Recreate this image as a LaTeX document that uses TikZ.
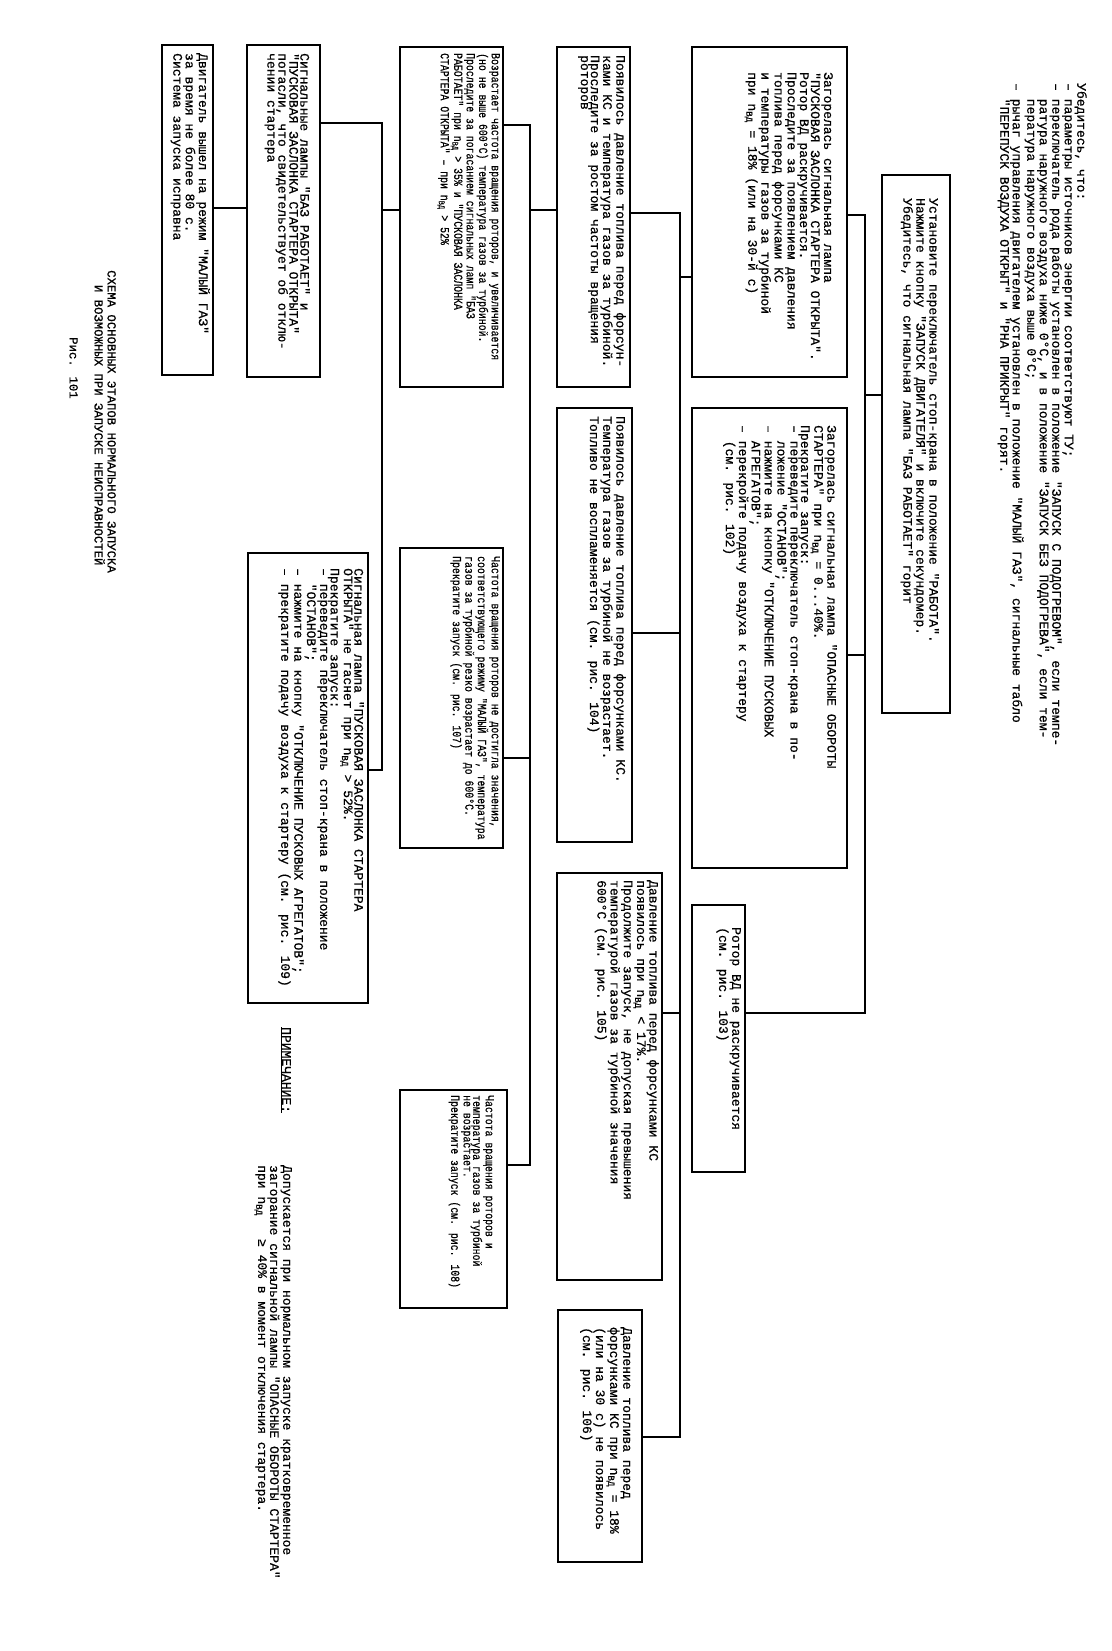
\documentclass[tikz,border=0pt]{standalone}
\usepackage{fontspec}
\newfontfamily\tw[FakeBold=0.6]{Liberation Mono}
\usetikzlibrary{fit, calc}
\newcommand{\nvd}{n\textsubscript{ВД}}
\tikzset{
    box/.style={rectangle, draw, line width=1.8pt, inner sep=0pt, outer sep=0pt},
    link/.style={line width=1.3pt},
    txt/.style={rotate=-90, anchor=north west, inner sep=0pt, align=left, font=\tw\fontsize{13}{11}\selectfont},
    txtn/.style={txt, xscale=0.8, font=\tw\fontsize{12.3}{9.5}\selectfont}
}

\begin{document}
\begin{tikzpicture}[x=1pt, y=-1pt]
    \useasboundingbox (0,0) rectangle (1111,1651);

    % Preconditions
    \node[txt, font=\tw\fontsize{13}{12.5}\selectfont] (check_t) at (1087,83) {%
        Убедитесь, что:\\
        – параметры источников энергии соответствуют ТУ;\\
        – переключатель рода работы установлен в положение "ЗАПУСК С ПОДОГРЕВОМ", если темпе-\\
        \phantom{– }ратура наружного воздуха ниже 0°С, и в положение "ЗАПУСК БЕЗ ПОДОГРЕВА", если тем-\\
        \phantom{– }пература наружного воздуха выше 0°С;\\
        – рычаг управления двигателем установлен в положение "МАЛЫЙ ГАЗ", сигнальные табло\\
        \phantom{– }"ПЕРЕПУСК ВОЗДУХА ОТКРЫТ" и "РНА ПРИКРЫТ" горят.%
    };

    % Start
    \node[box, fit={(882,175) (950,713)}] (start) {};
    \node[txt, font=\tw\fontsize{13}{13}\selectfont] (start_t) at ($(start.north east)+(-11,23)$) {%
        Установите переключатель стоп-крана в положение "РАБОТА".\\
        Нажмите кнопку "ЗАПУСК ДВИГАТЕЛЯ" и включите секундомер.\\
        Убедитесь, что сигнальная лампа "БАЗ РАБОТАЕТ" горит%
    };

    % Column 1
    \node[box, fit={(692,47) (847,377)}] (lamp_flap) {};
    \node[txt] (lamp_flap_t) at ($(lamp_flap.north east)+(-14,25)$) {%
        Загорелась сигнальная лампа\\
        "ПУСКОВАЯ ЗАСЛОНКА СТАРТЕРА ОТКРЫТА".\\
        Ротор ВД раскручивается.\\
        Проследите за появлением давления\\
        топлива перед форсунками КС\\
        и температуры газов за турбиной\\
        при \nvd{} = 18\% (или на 30-й с)%
    };

    \node[box, fit={(692,408) (847,868)}] (lamp_danger) {};
    \node[txt, font=\tw\fontsize{13}{10.5}\selectfont] (lamp_danger_t) at ($(lamp_danger.north east)+(-10,17)$) {%
        Загорелась сигнальная лампа "ОПАСНЫЕ ОБОРОТЫ\\
        СТАРТЕРА" при \nvd{} = 0...40\%.\\
        Прекратите запуск:\\
        – переведите переключатель стоп-крана в по-\\
        \phantom{– }ложение "ОСТАНОВ";\\
        – нажмите на кнопку "ОТКЛЮЧЕНИЕ ПУСКОВЫХ\\
        \phantom{– }АГРЕГАТОВ";\\
        – перекройте подачу воздуха к стартеру\\
        \phantom{– }(см. рис. 102)%
    };

    \node[box, fit={(692,905) (745,1172)}] (rotor_stuck) {};
    \node[txt, font=\tw\fontsize{13}{12}\selectfont] (rotor_stuck_t) at ($(rotor_stuck.north east)+(-4,22)$) {%
        Ротор ВД не раскручивается\\
        (см. рис. 103)%
    };

    % Column 2
    \node[box, fit={(557,47) (630,387)}] (fuel_ok) {};
    \node[txt, font=\tw\fontsize{13}{10}\selectfont] (fuel_ok_t) at ($(fuel_ok.north east)+(-4,8)$) {%
        Появилось давление топлива перед форсун-\\
        ками КС и температура газов за турбиной.\\
        Проследите за ростом частоты вращения\\
        роторов%
    };

    \node[box, fit={(557,408) (632,842)}] (no_ignition) {};
    \node[txt, font=\tw\fontsize{13}{10}\selectfont] (no_ignition_t) at ($(no_ignition.north east)+(-6,8)$) {%
        Появилось давление топлива перед форсунками КС.\\
        Температура газов за турбиной не возрастает.\\
        Топливо не воспламеняется (см. рис. 104)%
    };

    \node[box, fit={(557,873) (662,1280)}] (early_fuel) {};
    \node[txt, font=\tw\fontsize{13}{10}\selectfont] (early_fuel_t) at ($(early_fuel.north east)+(-3,7)$) {%
        Давление топлива перед форсунками КС\\
        появилось при \nvd{} < 17\%.\\
        Продолжите запуск, не допуская превышения\\
        температурой газов за турбиной значения\\
        600°С (см. рис. 105)%
    };

    \node[box, fit={(558,1310) (642,1562)}] (no_fuel) {};
    \node[txt, font=\tw\fontsize{13}{12}\selectfont] (no_fuel_t) at ($(no_fuel.north east)+(-10,17)$) {%
        Давление топлива перед\\
        форсунками КС при \nvd{} = 18\%\\
        (или на 30 с) не появилось\\
        (см. рис. 106)%
    };

    % Column 3
    \node[box, fit={(400,47) (503,387)}] (rpm_up) {};
    \node[txtn] (rpm_up_t) at ($(rpm_up.north east)+(-3,6)$) {%
        Возрастает частота вращения роторов, и увеличивается\\
        (но не выше 600°С) температура газов за турбиной.\\
        Проследите за погасанием сигнальных ламп "БАЗ\\
        РАБОТАЕТ" при \nvd{} > 35\% и "ПУСКОВАЯ ЗАСЛОНКА\\
        СТАРТЕРА ОТКРЫТА" – при \nvd{} > 52\%%
    };

    \node[box, fit={(400,548) (503,848)}] (hot_start) {};
    \node[txtn] (hot_start_t) at ($(hot_start.north east)+(-3,8)$) {%
        Частота вращения роторов не достигла значения,\\
        соответствующего режиму "МАЛЫЙ ГАЗ", температура\\
        газов за турбиной резко возрастает до 600°С.\\
        Прекратите запуск (см. рис. 107)%
    };

    \node[box, fit={(400,1090) (507,1308)}] (hung_start) {};
    \node[txtn] (hung_start_t) at ($(hung_start.north east)+(-13,5)$) {%
        Частота вращения роторов и\\
        температура газов за турбиной\\
        не возрастает.\\
        Прекратите запуск (см. рис. 108)%
    };

    % Column 4
    \node[box, fit={(247,45) (320,377)}] (starter_off) {};
    \node[txt] (starter_off_t) at ($(starter_off.north east)+(-10,8)$) {%
        Сигнальные лампы "БАЗ РАБОТАЕТ" и\\
        "ПУСКОВАЯ ЗАСЛОНКА СТАРТЕРА ОТКРЫТА"\\
        погасли, что свидетельствует об отклю-\\
        чении стартера%
    };

    \node[box, fit={(248,553) (368,1003)}] (flap_stuck) {};
    \node[txt, font=\tw\fontsize{13}{10.5}\selectfont] (flap_stuck_t) at ($(flap_stuck.north east)+(-4,15)$) {%
        Сигнальная лампа "ПУСКОВАЯ ЗАСЛОНКА СТАРТЕРА\\
        ОТКРЫТА" не гаснет при \nvd{} > 52\%.\\
        Прекратите запуск:\\
        – переведите переключатель стоп-крана в положение\\
        \phantom{– }"ОСТАНОВ";\\
        – нажмите на кнопку "ОТКЛЮЧЕНИЕ ПУСКОВЫХ АГРЕГАТОВ";\\
        – прекратите подачу воздуха к стартеру (см. рис. 109)%
    };

    % Column 5
    \node[box, fit={(162,45) (213,375)}] (idle) {};
    \node[txt, font=\tw\fontsize{13}{10}\selectfont] (idle_t) at ($(idle.north east)+(-3,8)$) {%
        Двигатель вышел на режим "МАЛЫЙ ГАЗ"\\
        за время не более 80 с.\\
        Система запуска исправна%
    };

    % Caption and note
    \node[txt, font=\tw\fontsize{12.3}{13}\selectfont] (title) at (116,270) {%
        СХЕМА ОСНОВНЫХ ЭТАПОВ НОРМАЛЬНОГО ЗАПУСКА\\
        \phantom{СХ}И ВОЗМОЖНЫХ ПРИ ЗАПУСКЕ НЕИСПРАВНОСТЕЙ%
    };
    \node[txt, font=\tw\fontsize{12.3}{13}\selectfont] (fig) at (78,337) {Рис. 101};

    \node[txt] (note_lbl) at (291,1027) {\underline{ПРИМЕЧАНИЕ:}};
    \node[txt, font=\tw\fontsize{13}{12}\selectfont] (note_t) at (292,1165) {%
        Допускается при нормальном запуске кратковременное\\
        загорание сигнальной лампы "ОПАСНЫЕ ОБОРОТЫ СТАРТЕРА"\\
        при \nvd\ \ \ ≥ 40\% в момент отключения стартера.%
    };

    % Connections: start -> column 1
    \coordinate (busA_top) at (865,215);
    \coordinate (busA_in) at (865,395);
    \coordinate (busA_mid) at (865,655);
    \coordinate (busA_bot) at (865,1013);
    \draw[link] (busA_in -| start.west) -- (busA_in);
    \draw[link] (busA_top -| lamp_flap.east) -- (busA_top) -- (busA_bot) -- (busA_bot -| rotor_stuck.east);
    \draw[link] (busA_mid) -- (busA_mid -| lamp_danger.east);

    % Connections: column 1 -> column 2
    \coordinate (busB_top) at (680,213);
    \coordinate (busB_in) at (680,277);
    \coordinate (busB_mid) at (680,633);
    \coordinate (busB_low) at (680,1013);
    \coordinate (busB_bot) at (680,1437);
    \draw[link] (busB_in -| lamp_flap.west) -- (busB_in);
    \draw[link] (busB_top -| fuel_ok.east) -- (busB_top) -- (busB_bot) -- (busB_bot -| no_fuel.east);
    \draw[link] (busB_mid) -- (busB_mid -| no_ignition.east);
    \draw[link] (busB_low) -- (busB_low -| early_fuel.east);

    % Connections: column 2 -> column 3
    \coordinate (busC_top) at (530,125);
    \coordinate (busC_in) at (530,210);
    \coordinate (busC_mid) at (530,758);
    \coordinate (busC_bot) at (530,1165);
    \draw[link] (busC_in -| fuel_ok.west) -- (busC_in);
    \draw[link] (busC_top -| rpm_up.east) -- (busC_top) -- (busC_bot) -- (busC_bot -| hung_start.east);
    \draw[link] (busC_mid) -- (busC_mid -| hot_start.east);

    % Connections: column 3 -> column 4
    \coordinate (busD_top) at (382,123);
    \coordinate (busD_in) at (382,210);
    \coordinate (busD_bot) at (382,770);
    \draw[link] (busD_in -| rpm_up.west) -- (busD_in);
    \draw[link] (busD_top -| starter_off.east) -- (busD_top) -- (busD_bot) -- (busD_bot -| flap_stuck.east);

    % Connections: column 4 -> column 5
    \coordinate (busE) at (230,208);
    \draw[link] (busE -| starter_off.west) -- (busE -| idle.east);
\end{tikzpicture}
\end{document}
